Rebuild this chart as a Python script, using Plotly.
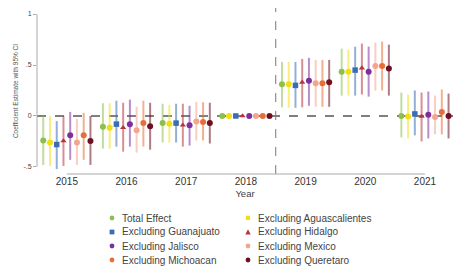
import plotly.graph_objects as go

years = [2015, 2016, 2017, 2018, 2019, 2020, 2021]
series_names = ["Total Effect", "Excluding Aguascalientes", "Excluding Guanajuato",
                "Excluding Hidalgo", "Excluding Jalisco", "Excluding Mexico",
                "Excluding Michoacan", "Excluding Queretaro"]

est_total = [-0.24, -0.105, -0.07, 0.0, 0.31, 0.435, 0.0]
est_agua = [-0.26, -0.115, -0.075, 0.0, 0.31, 0.435, -0.005]
est_guan = [-0.28, -0.08, -0.07, 0.0, 0.30, 0.45, 0.02]
est_hida = [-0.245, -0.115, -0.09, 0.0, 0.33, 0.47, -0.005]
est_jali = [-0.19, -0.08, -0.09, 0.0, 0.345, 0.435, 0.013]
est_mexi = [-0.26, -0.14, -0.055, 0.0, 0.32, 0.49, -0.01]
est_mich = [-0.19, -0.07, -0.06, 0.0, 0.32, 0.49, 0.04]
est_quer = [-0.245, -0.10, -0.07, 0.0, 0.33, 0.465, 0.0]

hi_total = [0.0, 0.125, 0.12, 0.0, 0.53, 0.66, 0.23]
hi_agua = [0.0, 0.125, 0.11, 0.0, 0.53, 0.65, 0.21]
hi_guan = [-0.05, 0.15, 0.12, 0.0, 0.53, 0.68, 0.25]
hi_hida = [0.0, 0.13, 0.12, 0.0, 0.56, 0.71, 0.23]
hi_jali = [0.04, 0.16, 0.10, 0.0, 0.57, 0.68, 0.24]
hi_mexi = [-0.03, 0.09, 0.14, 0.0, 0.55, 0.72, 0.20]
hi_mich = [0.03, 0.15, 0.135, 0.0, 0.55, 0.73, 0.26]
hi_quer = [0.0, 0.13, 0.13, 0.0, 0.55, 0.70, 0.22]

lo_total = [-0.48, -0.32, -0.26, 0.0, 0.085, 0.20, -0.21]
lo_agua = [-0.49, -0.32, -0.26, 0.0, 0.08, 0.20, -0.22]
lo_guan = [-0.52, -0.30, -0.26, 0.0, 0.08, 0.20, -0.19]
lo_hida = [-0.49, -0.35, -0.30, 0.0, 0.085, 0.21, -0.25]
lo_jali = [-0.43, -0.30, -0.29, 0.0, 0.10, 0.19, -0.22]
lo_mexi = [-0.48, -0.36, -0.24, 0.0, 0.09, 0.25, -0.18]
lo_mich = [-0.43, -0.30, -0.24, 0.0, 0.09, 0.25, -0.18]
lo_quer = [-0.48, -0.33, -0.27, 0.0, 0.09, 0.20, -0.22]

y_ticks = [-0.5, 0, 0.5, 1]
y_tick_labels = ["-.5", "0", ".5", "1"]

estimates = [est_total, est_agua, est_guan, est_hida, est_jali, est_mexi, est_mich, est_quer]
highs = [hi_total, hi_agua, hi_guan, hi_hida, hi_jali, hi_mexi, hi_mich, hi_quer]
lows = [lo_total, lo_agua, lo_guan, lo_hida, lo_jali, lo_mexi, lo_mich, lo_quer]

colors = ["#8dbf4e", "#f2de12", "#3b6db2", "#b8333b", "#7d2f9d", "#f3a68c", "#e66f39", "#6e1022"]
ci_colors = ["rgba(141,191,78,0.55)", "rgba(242,222,18,0.55)", "rgba(59,109,178,0.55)",
             "rgba(184,51,59,0.55)", "rgba(125,47,157,0.55)", "rgba(243,166,140,0.55)",
             "rgba(230,111,57,0.55)", "rgba(110,16,34,0.55)"]
symbols = ["circle", "circle", "square", "triangle-up", "circle", "circle", "circle", "circle"]

W, H = 453, 266
ML, MR, MT, MB = 37, 0, 8, 92
PW, PH = W - ML - MR, H - MT - MB

step = 0.113
fig = go.Figure()
for i, name in enumerate(series_names):
    off = (i - 3.5) * step
    xs = [y + off for y in years]
    est = estimates[i]
    plus = [h - e for h, e in zip(highs[i], est)]
    minus = [e - l for e, l in zip(est, lows[i])]
    fig.add_trace(go.Scatter(
        x=xs, y=est, mode="markers", name=name, showlegend=False,
        marker=dict(color=colors[i], size=6 if symbols[i] == "circle" else 5.5,
                    symbol=symbols[i], line=dict(width=0)),
        error_y=dict(type="data", array=plus, arrayminus=minus, color=ci_colors[i],
                     thickness=2, width=0, symmetric=False),
    ))


def px2paper(px, py):
    return (px - ML) / PW, (H - MB - py) / PH


# manual two-column legend (glyphs + labels), positioned in pixel space
leg_col_x = [112, 248]
leg_row_y = [218, 232, 246, 260]
r = 2.4
for i, name in enumerate(series_names):
    cx = leg_col_x[i % 2]
    cy = leg_row_y[i // 2]
    sym = symbols[i]
    if sym == "circle":
        x0, y0 = px2paper(cx - r, cy + r)
        x1, y1 = px2paper(cx + r, cy - r)
        fig.add_shape(type="circle", xref="paper", yref="paper", x0=x0, y0=y0, x1=x1, y1=y1,
                      fillcolor=colors[i], line=dict(width=0))
    elif sym == "square":
        x0, y0 = px2paper(cx - r, cy + r)
        x1, y1 = px2paper(cx + r, cy - r)
        fig.add_shape(type="rect", xref="paper", yref="paper", x0=x0, y0=y0, x1=x1, y1=y1,
                      fillcolor=colors[i], line=dict(width=0))
    else:
        ax, ay = px2paper(cx - r - 0.3, cy + r)
        bx, by = px2paper(cx + r + 0.3, cy + r)
        tx, ty = px2paper(cx, cy - r - 0.4)
        fig.add_shape(type="path", xref="paper", yref="paper",
                      path=f"M {ax} {ay} L {bx} {by} L {tx} {ty} Z",
                      fillcolor=colors[i], line=dict(width=0))
    lx, ly = px2paper(cx + 8, cy)
    fig.add_annotation(x=lx, y=ly, xref="paper", yref="paper", text=name,
                       showarrow=False, xanchor="left", yanchor="middle",
                       font=dict(size=10, color="#444444"))

# reference lines
fig.add_shape(type="line", xref="paper", yref="y", x0=0, x1=1, y0=0, y1=0,
              line=dict(color="#555555", width=1.3, dash="dash"), layer="below")
fig.add_shape(type="line", xref="x", yref="paper", x0=2018.5, x1=2018.5, y0=0, y1=1,
              line=dict(color="#777777", width=1, dash="dash"), layer="below")
# Stata-style axis lines over tick range
fig.add_shape(type="line", xref="paper", yref="y", x0=0, x1=0, y0=-0.5, y1=1,
              line=dict(color="#aaaaaa", width=1))
fig.add_shape(type="line", xref="x", yref="paper", x0=2015, x1=2021, y0=0, y1=0,
              line=dict(color="#aaaaaa", width=1))

fig.update_layout(
    width=W, height=H,
    margin=dict(l=ML, r=MR, t=MT, b=MB, pad=0),
    paper_bgcolor="white", plot_bgcolor="white",
    font=dict(family="Liberation Sans, Arial, sans-serif", color="#333333"),
    showlegend=False,
    xaxis=dict(range=[2014.5, 2021.47], tickvals=years,
               ticktext=[str(y) for y in years], showgrid=False, zeroline=False,
               showline=False, ticks="", automargin=False,
               tickfont=dict(size=10, color="#333333"),
               title=dict(text="Year", font=dict(size=9.5, color="#444444"), standoff=4)),
    yaxis=dict(range=[-0.569, 1.059],
               tickvals=y_ticks, ticktext=y_tick_labels, showgrid=False,
               zeroline=False, showline=False, ticks="outside", ticklen=3,
               tickcolor="#aaaaaa", automargin=False,
               tickfont=dict(size=7, color="#444444"),
               title=dict(text="Coefficient Estimate with 95% CI",
                          font=dict(size=6.5, color="#555555"), standoff=4)),
)

fig.write_html("out.html", config={"displayModeBar": False},
               post_script="document.body.style.margin='0';document.body.style.overflow='hidden';")
